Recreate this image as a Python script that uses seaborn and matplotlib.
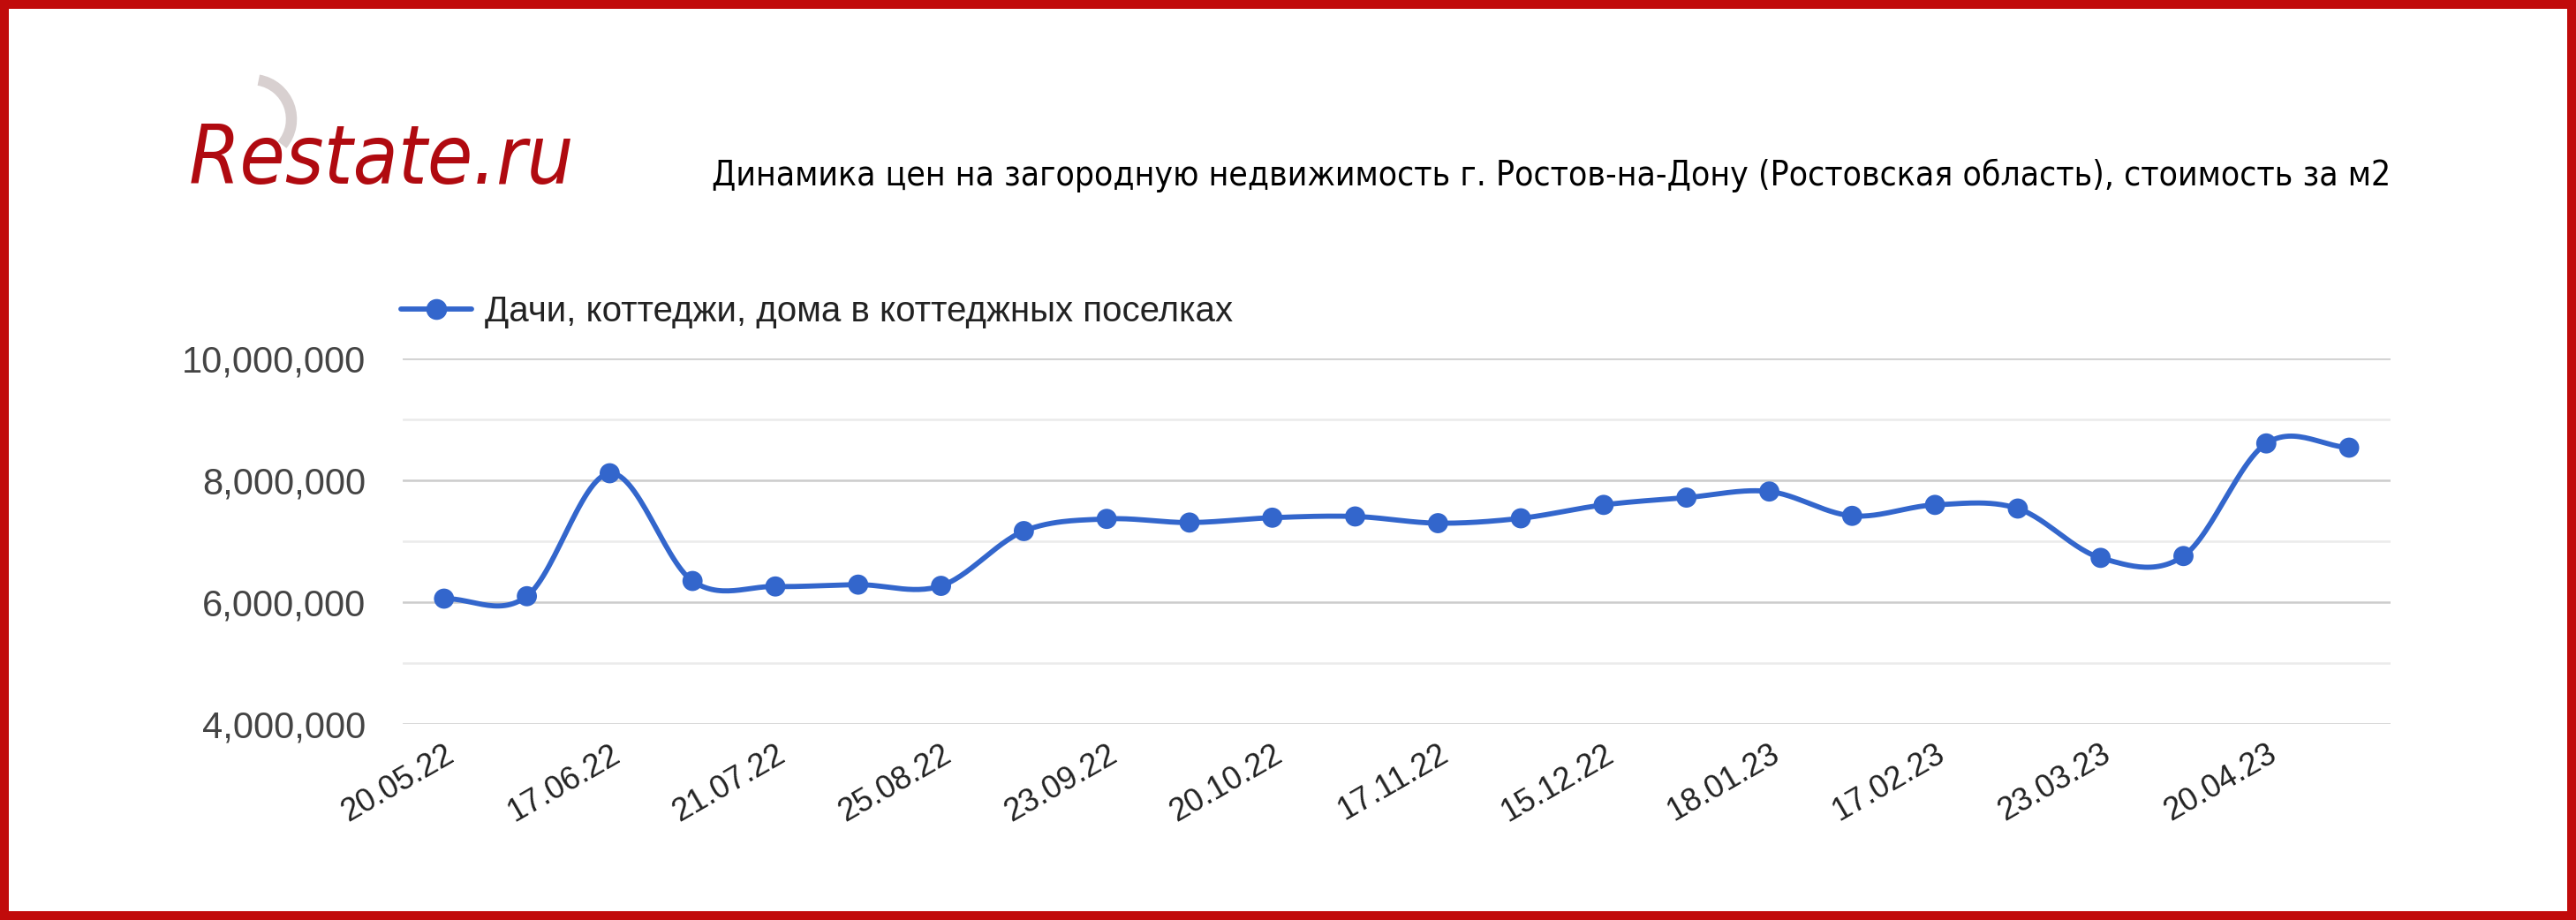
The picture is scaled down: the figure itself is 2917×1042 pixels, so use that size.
import os
import numpy as np
import pandas as pd
import seaborn as sns
import matplotlib.pyplot as plt
from matplotlib import font_manager
from matplotlib.lines import Line2D
from matplotlib.patches import Rectangle, Arc

# chart data (prices per m2, rubles)
values = [6060000, 6100000, 8120000, 6350000, 6260000, 6290000, 6270000, 7170000,
          7370000, 7310000, 7390000, 7410000, 7300000, 7380000, 7600000, 7720000,
          7820000, 7420000, 7600000, 7540000, 6730000, 6760000, 8610000, 8540000]
tick_labels = ['20.05.22', '17.06.22', '21.07.22', '25.08.22', '23.09.22', '20.10.22',
               '17.11.22', '15.12.22', '18.01.23', '17.02.23', '23.03.23', '20.04.23']
series_name = 'Дачи, коттеджи, дома в коттеджных поселках'
title = 'Динамика цен на загородную недвижимость г. Ростов-на-Дону (Ростовская область), стоимость за м2'

BLUE = '#3366CC'
RED = '#C10B0B'


def catmull_rom(y, steps=30):
    """smooth curve through the points, like the 'function' curve of google charts"""
    y = np.asarray(y, dtype=float)
    n = len(y)
    m = np.zeros(n)
    m[1:-1] = (y[2:] - y[:-2]) / 2
    m[0] = y[1] - y[0]
    m[-1] = y[-1] - y[-2]
    xs, ys = [], []
    for i in range(n - 1):
        t = np.linspace(0, 1, steps, endpoint=False)
        h00 = 2 * t**3 - 3 * t**2 + 1
        h10 = t**3 - 2 * t**2 + t
        h01 = -2 * t**3 + 3 * t**2
        h11 = t**3 - t**2
        xs.append(i + t)
        ys.append(h00 * y[i] + h10 * m[i] + h01 * y[i + 1] + h11 * m[i + 1])
    xs.append([n - 1])
    ys.append([y[-1]])
    return np.concatenate(xs), np.concatenate(ys)


def narrow_font(files, default):
    """first installed font file from the list, else a family name"""
    installed = {os.path.basename(f.fname): f.fname for f in font_manager.fontManager.ttflist}
    for name in files:
        if name in installed:
            return font_manager.FontProperties(fname=installed[name])
    return font_manager.FontProperties(family=default[0], style=default[1])


def fit_text(txt, width_px, renderer):
    # shrink/grow font so the text covers the given width
    w = txt.get_window_extent(renderer).width
    txt.set_fontsize(txt.get_fontsize() * width_px / w)


df = pd.DataFrame({'idx': np.arange(len(values)), 'price': values})
sx, sy = catmull_rom(df['price'].values)
smooth = pd.DataFrame({'idx': sx, 'price': sy})

sns.set_style('white')
plt.rcParams['font.family'] = ['Liberation Sans', 'DejaVu Sans']

fig = plt.figure(figsize=(29.17, 10.42), dpi=100)
ax = fig.add_axes([0.1563, 0.213, 0.7717, 0.397])

# gridlines
for v in [5e6, 7e6, 9e6]:
    ax.axhline(v, color='#ebebeb', lw=1.8, zorder=0)
for v in [4e6, 6e6, 8e6, 10e6]:
    ax.axhline(v, color='#cccccc', lw=1.8, zorder=0)

sns.lineplot(data=smooth, x='idx', y='price', ax=ax, color=BLUE, lw=4.2,
             estimator=None, sort=False, zorder=3)
sns.scatterplot(data=df, x='idx', y='price', ax=ax, color=BLUE, s=270,
                edgecolor='none', zorder=4, clip_on=False)

ax.set_xlim(-0.5, len(values) - 0.5)
ax.set_ylim(4e6, 10e6)
ax.set_yticks([4e6, 6e6, 8e6, 10e6])
ax.set_yticklabels([f'{int(v):,}' for v in [4e6, 6e6, 8e6, 10e6]])
ax.set_xticks(np.arange(0, len(values), 2))
ax.set_xticklabels(tick_labels, rotation=30, ha='right', rotation_mode='anchor')
ax.tick_params(axis='y', length=0, pad=30, labelsize=30, labelcolor='#444444')
ax.tick_params(axis='x', length=0, pad=12, labelsize=26, labelcolor='#222222')
ax.set_xlabel('')
ax.set_ylabel('')
sns.despine(ax=ax, left=True, bottom=True)

handle = Line2D([], [], color=BLUE, lw=4.2, marker='o', markersize=16)
ax.legend(handles=[handle], labels=[series_name], loc='center left',
          bbox_to_anchor=(0.1556, 0.661), bbox_transform=fig.transFigure,
          frameon=False, fontsize=29, borderpad=0, borderaxespad=0,
          handlelength=2.0, handletextpad=0.35, labelcolor='#222222')

# header: narrow fonts when they exist
title_font = narrow_font(['LiberationSansNarrow-Regular.ttf', 'NotoSans-ExtraCondensed.ttf',
                          'NotoSans-Condensed.ttf', 'DejaVuSansCondensed.ttf'],
                         ('Liberation Sans', 'normal'))
logo_font = narrow_font(['LiberationSansNarrow-Italic.ttf', 'NotoSans-ExtraCondensedItalic.ttf',
                         'NotoSans-CondensedItalic.ttf', 'DejaVuSansCondensed-Oblique.ttf'],
                        ('Liberation Sans', 'italic'))

t_title = fig.text(0.928, 0.7985, title, ha='right', va='baseline', color='black',
                   fontproperties=title_font, fontsize=36)
t_logo = fig.text(0.0734, 0.80, 'Restate.ru', ha='left', va='baseline',
                  color='#B00A10', fontproperties=logo_font, fontsize=80)
renderer = fig.canvas.get_renderer()
fit_text(t_title, 1905, renderer)
fit_text(t_logo, 437, renderer)

fig.add_artist(Arc((2.85, 9.07), 0.9, 0.9, theta1=-40, theta2=80, lw=9,
                   color='#d8d0d0', transform=fig.dpi_scale_trans))

# red frame
fig.add_artist(Rectangle((0, 0), 1, 1, transform=fig.transFigure, fill=False,
                         edgecolor=RED, lw=14.4))

fig.savefig('out.png', dpi=100, facecolor='white')
